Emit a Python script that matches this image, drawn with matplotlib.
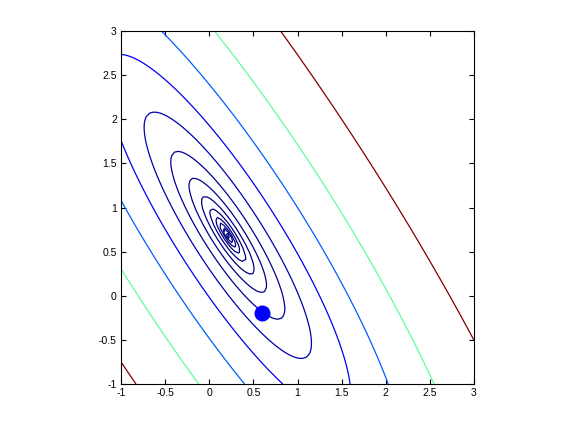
import numpy as np
import matplotlib
matplotlib.use("Agg")
import matplotlib.pyplot as plt

# quadratic bowl f = A*dx^2 + 2*B*dx*dy + C*dy^2 around (x0, y0)
center = [0.21, 0.685]
hess = [223.0, 132.9, 103.0]   # A, B, C
levels = np.logspace(-1, 3, 13)
start_point = [0.6, -0.19]

plt.rcParams['font.family'] = ['Liberation Sans', 'DejaVu Sans']

x = np.linspace(-1, 3, 100)
y = np.linspace(-1, 3, 100)
X, Y = np.meshgrid(x, y)
dx = X - center[0]
dy = Y - center[1]
Z = hess[0] * dx**2 + 2 * hess[1] * dx * dy + hess[2] * dy**2

fig = plt.figure(figsize=(5.76, 4.32), dpi=100)
ax = fig.add_axes([0.2101, 0.1111, 0.6128, 0.8171])

ax.contour(X, Y, Z, levels=levels, cmap='jet', linewidths=0.9)
ax.plot(start_point[0], start_point[1], 'o', color='blue', markersize=10.5)

ax.set_xlim(-1, 3)
ax.set_ylim(-1, 3)
ticks = [-1, -0.5, 0, 0.5, 1, 1.5, 2, 2.5, 3]
ticklabels = ['-1', '-0.5', '0', '0.5', '1', '1.5', '2', '2.5', '3']
ax.set_xticks(ticks)
ax.set_xticklabels(ticklabels)
ax.set_yticks(ticks)
ax.set_yticklabels(ticklabels)
ax.tick_params(direction='in', length=3.5, width=0.8, top=True, right=True,
               labelsize=7.5, pad=3)
for s in ax.spines.values():
    s.set_linewidth(0.8)

plt.savefig("out.png", dpi=100)
